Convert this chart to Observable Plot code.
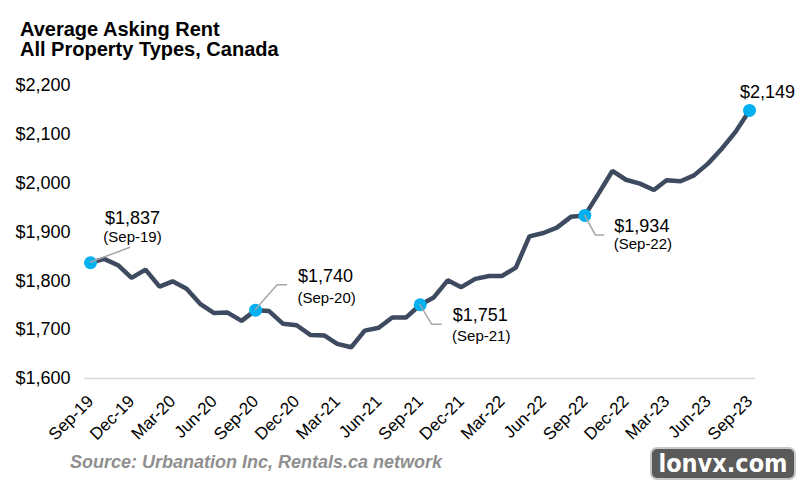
<!DOCTYPE html>
<html>
<head>
<meta charset="utf-8">
<script src="https://cdn.jsdelivr.net/npm/d3@7"></script>
<script src="https://cdn.jsdelivr.net/npm/@observablehq/plot@0.6"></script>
<style>
  html, body { margin: 0; padding: 0; background: #fff; }
  #page { position: relative; width: 800px; height: 480px; overflow: hidden;
          font-family: "Liberation Sans", Arial, sans-serif; }
  #title { position: absolute; left: 20px; top: 20px; font-weight: bold; font-size: 20px;
           line-height: 19.5px; color: #000; }
  #chart { position: absolute; left: 0; top: 70px; }
  #source { position: absolute; left: 70px; top: 452px; font-style: italic; font-weight: 600;
            font-size: 18px; line-height: 20px; color: #8f8f8f; white-space: nowrap; }
  #brand { position: absolute; left: 650px; top: 447px; width: 142px; height: 29px;
           background: #5a5a5a; border: 2px solid #c8c8c8; border-radius: 7px;
           color: #fff; font-family: "DejaVu Sans Condensed", "DejaVu Sans", sans-serif;
           font-weight: bold; font-size: 25px; line-height: 29px; text-align: center; }
</style>
</head>
<body>
<div id="page">
  <div id="title">Average Asking Rent<br>All Property Types, Canada</div>
  <div id="chart"></div>
  <div id="source">Source: Urbanation Inc, Rentals.ca network</div>
  <div id="brand">lonvx.com</div>
</div>
<script>
// Monthly average asking rent, all property types, Canada (CAD)
const months = [
  "Sep-19","Oct-19","Nov-19","Dec-19","Jan-20","Feb-20","Mar-20","Apr-20","May-20","Jun-20","Jul-20","Aug-20",
  "Sep-20","Oct-20","Nov-20","Dec-20","Jan-21","Feb-21","Mar-21","Apr-21","May-21","Jun-21","Jul-21","Aug-21",
  "Sep-21","Oct-21","Nov-21","Dec-21","Jan-22","Feb-22","Mar-22","Apr-22","May-22","Jun-22","Jul-22","Aug-22",
  "Sep-22","Oct-22","Nov-22","Dec-22","Jan-23","Feb-23","Mar-23","Apr-23","May-23","Jun-23","Jul-23","Aug-23",
  "Sep-23"
];
const rent = [
  1837, 1845, 1832, 1806, 1823, 1788, 1799, 1784, 1753, 1734, 1735, 1718,
  1740, 1738, 1712, 1709, 1689, 1688, 1671, 1664, 1698, 1704, 1725, 1725,
  1751, 1766, 1801, 1787, 1804, 1810, 1810, 1827, 1891, 1898, 1909, 1931,
  1934, 1978, 2025, 2007, 1999, 1986, 2006, 2004, 2016, 2040, 2070, 2105,
  2149
];
const tickMonths = ["Sep-19","Dec-19","Mar-20","Jun-20","Sep-20","Dec-20","Mar-21","Jun-21","Sep-21",
                    "Dec-21","Mar-22","Jun-22","Sep-22","Dec-22","Mar-23","Jun-23","Sep-23"];
const yTicks = [1600, 1700, 1800, 1900, 2000, 2100, 2200];
const calloutMonths = ["Sep-19", "Sep-20", "Sep-21", "Sep-22", "Sep-23"];

// label placement for each callout (offsets in px from the point)
const calloutLayout = {
  "Sep-19": { value: [42, -45], date: [42, -26], leader: [[40, -15]] },
  "Sep-20": { value: [70, -34], date: [71, -12], leader: [[22, -25], [32, -25]] },
  "Sep-21": { value: [60, 10],  date: [61, 31],  leader: [[12, 20], [22, 20]] },
  "Sep-22": { value: [57, 11],  date: [58, 29],  leader: [[11, 20], [20, 20]] },
  "Sep-23": { value: [18, -18], date: null,      leader: [] }
};

const parseMonth = d3.utcParse("%b-%y");
const fmtMonth = d3.utcFormat("%b-%y");
const money = d => "$" + d3.format(",")(d);

const series = months.map((m, i) => ({ date: parseMonth(m), month: m, value: rent[i] }));
const callouts = calloutMonths.map(m => series.find(d => d.month === m));

const lineColor = "#3d4a5f";
const dotColor = "#00b0f0";

const calloutMarks = callouts.flatMap(c => {
  const lay = calloutLayout[c.month];
  const marks = [
    Plot.text([c], { x: "date", y: "value", text: d => money(d.value),
      dx: lay.value[0], dy: lay.value[1], fontSize: 18, fill: "#000", textAnchor: "middle" })
  ];
  if (lay.date) marks.push(
    Plot.text([c], { x: "date", y: "value", text: d => "(" + d.month + ")",
      dx: lay.date[0], dy: lay.date[1], fontSize: 15, fill: "#000", textAnchor: "middle" })
  );
  return marks;
});

const plot = Plot.plot({
  width: 800,
  height: 380,
  marginLeft: 84,
  marginRight: 45,
  marginTop: 15,
  marginBottom: 72,
  x: { type: "utc", domain: [series[0].date, series[series.length - 1].date], inset: 6, label: null },
  y: { domain: [1600, 2200], label: null },
  style: { fontFamily: "'Liberation Sans', Arial, sans-serif", fontSize: "17px", color: "#000", background: "transparent" },
  marks: [
    Plot.ruleY([1600], { stroke: "#d9d9d9", strokeWidth: 1.5 }),
    Plot.axisY({ ticks: yTicks, tickFormat: money, tickSize: 0, tickPadding: 14, fontSize: 18, label: null }),
    Plot.axisX({ ticks: tickMonths.map(parseMonth), tickFormat: fmtMonth, tickSize: 0,
                 tickRotate: -45, tickPadding: 20, fontSize: 17, label: null }),
    Plot.line(series, { x: "date", y: "value", stroke: lineColor, strokeWidth: 4.5,
                        strokeLinejoin: "miter", strokeLinecap: "butt" }),
    Plot.dot(callouts, { x: "date", y: "value", r: 6.5, fill: dotColor }),
    ...calloutMarks
  ]
});

// leader lines from each highlighted point toward its label
const xs = plot.scale("x"), ys = plot.scale("y");
const svg = d3.select(plot.tagName === "svg" ? plot : plot.querySelector("svg"));
const leaderG = svg.append("g").attr("fill", "none").attr("stroke", "#a6a6a6").attr("stroke-width", 1.5);
for (const c of callouts) {
  const pts = calloutLayout[c.month].leader;
  if (!pts.length) continue;
  const x0 = xs.apply(c.date), y0 = ys.apply(c.value);
  const p = d3.path();
  p.moveTo(x0, y0);
  for (const [dx, dy] of pts) p.lineTo(x0 + dx, y0 + dy);
  leaderG.append("path").attr("d", p.toString());
}

document.getElementById("chart").append(plot);
</script>
</body>
</html>
